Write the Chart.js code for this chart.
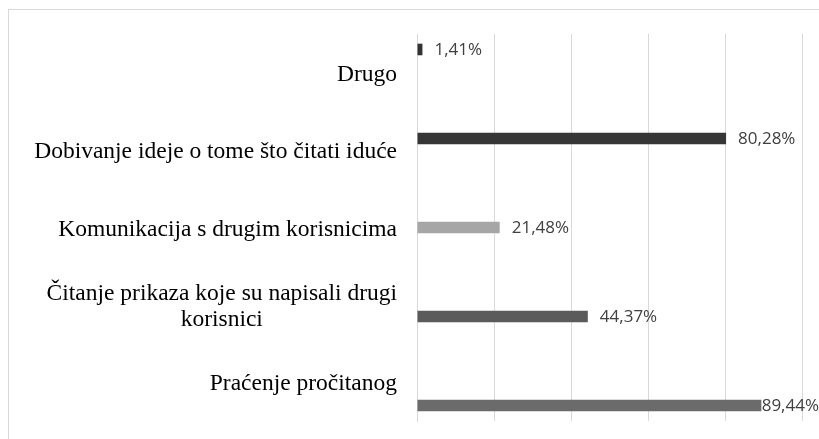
<!DOCTYPE html>
<html>
<head>
<meta charset="utf-8">
<script src="https://cdn.jsdelivr.net/npm/chart.js@4.4.0/dist/chart.umd.min.js"></script>
<style>
	html, body { margin: 0; padding: 0; background: #fff; overflow: hidden; }
	#frame {
		position: absolute; left: 8px; top: 9px; width: 1000px; height: 1000px;
		border-left: 1px solid #d9d9d9; border-top: 1px solid #d9d9d9;
	}
	#wrap { position: absolute; left: 0; top: 0; width: 819px; height: 439px; }
</style>
</head>
<body>
<div id="frame"></div>
<div id="wrap"><canvas id="usageChart"></canvas></div>
<script>
const categories = [
	"Drugo",
	"Dobivanje ideje o tome što čitati iduće",
	"Komunikacija s drugim korisnicima",
	["Čitanje prikaza koje su napisali drugi", "korisnici"],
	"Praćenje pročitanog",
];
const values = [1.41, 80.28, 21.48, 44.37, 89.44];
const barColors = ["#333333", "#363636", "#a6a6a6", "#5b5b5b", "#6b6b6b"];
const axisMax = 100;
const gridStep = 20;

function formatPercent(v) {
	return v.toFixed(2).replace(".", ",") + "%";
}

// one series per category, like the original spreadsheet
const datasets = values.map((v, i) => ({
	label: Array.isArray(categories[i]) ? categories[i].join(" ") : categories[i],
	data: values.map((_, j) => (j === i ? v : null)),
	backgroundColor: barColors[i],
	borderWidth: 0,
	barPercentage: 1,
	categoryPercentage: 0.75,
}));

const valueLabels = {
	id: "valueLabels",
	afterDatasetsDraw(chart) {
		const ctx = chart.ctx;
		ctx.save();
		ctx.font = '17px "Open Sans"';
		ctx.fillStyle = "#404040";
		ctx.textBaseline = "middle";
		ctx.textAlign = "left";
		chart.data.datasets.forEach((ds, di) => {
			const meta = chart.getDatasetMeta(di);
			meta.data.forEach((bar, i) => {
				if (ds.data[i] == null) return;
				const text = formatPercent(ds.data[i]);
				const w = ctx.measureText(text).width;
				let x = bar.x + 12;
				if (x + w > chart.width) x = chart.width - w;
				ctx.fillText(text, x, bar.y + 1);
			});
		});
		ctx.restore();
	},
};

const categoryLabels = {
	id: "categoryLabels",
	afterDraw(chart) {
		const ctx = chart.ctx;
		const yScale = chart.scales.y;
		const right = yScale.right - 20;
		const lineHeight = 26.3;
		ctx.save();
		ctx.font = '23.5px "Liberation Serif"';
		ctx.fillStyle = "#000000";
		ctx.textAlign = "center";
		ctx.textBaseline = "alphabetic";
		categories.forEach((cat, i) => {
			const lines = Array.isArray(cat) ? cat : [cat];
			const blockW = Math.max(...lines.map((l) => ctx.measureText(l).width));
			const cx = right - blockW / 2;
			const cy = yScale.getPixelForTick(i);
			const top = cy - ((lines.length - 1) * lineHeight) / 2;
			lines.forEach((l, k) => {
				ctx.fillText(l, cx, top + k * lineHeight + 8);
			});
		});
		ctx.restore();
	},
};

document.addEventListener("DOMContentLoaded", function () {
	const ctx = document.getElementById("usageChart").getContext("2d");
	new Chart(ctx, {
		type: "bar",
		data: { labels: categories, datasets: datasets },
		options: {
			indexAxis: "y",
			responsive: true,
			maintainAspectRatio: false,
			animation: false,
			layout: { padding: { top: 34, right: 17, bottom: 18, left: 0 } },
			plugins: {
				legend: { display: false },
				tooltip: { enabled: false },
			},
			scales: {
				x: {
					min: 0,
					max: axisMax,
					ticks: { display: false, stepSize: gridStep },
					grid: { color: "#d9d9d9", lineWidth: 1, drawTicks: false },
					border: { display: false },
				},
				y: {
					ticks: { display: false },
					grid: { display: false, drawTicks: false },
					border: { display: true, color: "#d9d9d9", width: 1 },
					afterFit(scale) {
						scale.width = 417;
					},
				},
			},
		},
		plugins: [valueLabels, categoryLabels],
	});
});
</script>
</body>
</html>
